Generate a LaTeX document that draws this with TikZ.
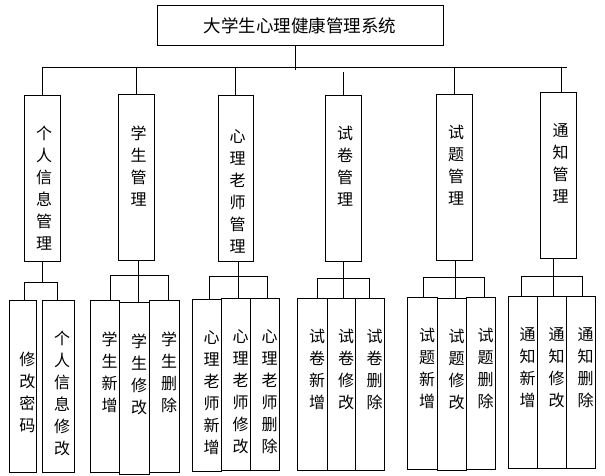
\documentclass[tikz,border=0pt]{standalone}
\usepackage{fontspec}
\setmainfont{Noto Sans CJK SC}
\begin{document}
\begin{tikzpicture}[x=1pt, y=-1pt, line width=1pt, font=\fontsize{16}{22}\selectfont,
          box/.style={draw, anchor=north, inner sep=0pt},
          sys/.style={box, minimum width=286pt, minimum height=40pt, font=\fontsize{17.5}{20}\selectfont},
          mod/.style={box, minimum width=36pt, minimum height=166pt},
          leaf/.style={box, minimum width=29pt, minimum height=172pt},
          vtxt/.style={anchor=north, align=center, inner sep=0pt, yshift=-31pt},
          mtxt/.style={vtxt, xshift=2pt},
          ltxt/.style={vtxt, xshift=5pt}]
        \useasboundingbox (0,0) rectangle (605,476);
        \node[sys] (sys) at (300,5) {大学生心理健康管理系统};
        % second level
        \node[mod, label={[mtxt]north:个\\人\\信\\息\\管\\理}] (m1) at (42,95) {};
        \node[mod, label={[mtxt]north:学\\生\\管\\理}] (m2) at (136.5,94) {};
        \node[mod, minimum width=35pt, label={[mtxt, yshift=-3pt]north:心\\理\\老\\师\\管\\理}] (m3) at (235.5,95) {};
        \node[mod, label={[mtxt]north:试\\卷\\管\\理}] (m4) at (343,95) {};
        \node[mod, label={[mtxt]north:试\\题\\管\\理}] (m5) at (454,94) {};
        \node[mod, label={[mtxt]north:通\\知\\管\\理}] (m6) at (558.5,92) {};
        % leaves
        \node[leaf, minimum width=27pt, label={[ltxt, yshift=-21pt]north:修\\改\\密\\码}] (l11) at (22.5,300) {};
        \node[leaf, minimum width=32pt, label={[ltxt, xshift=-1pt]north:个\\人\\信\\息\\修\\改}] (l12) at (58,300) {};
        \node[leaf, label={[ltxt]north:学\\生\\新\\增}] (l21) at (104.5,300) {};
        \node[leaf, minimum width=30pt, label={[ltxt]north:学\\生\\修\\改}] (l22) at (134,302) {};
        \node[leaf, minimum width=30pt, label={[ltxt]north:学\\生\\删\\除}] (l23) at (164,300) {};
        \node[leaf, label={[ltxt]north:心\\理\\老\\师\\新\\增}] (l31) at (206.5,299) {};
        \node[leaf, label={[ltxt]north:心\\理\\老\\师\\修\\改}] (l32) at (235.5,298) {};
        \node[leaf, label={[ltxt]north:心\\理\\老\\师\\删\\除}] (l33) at (264.5,298) {};
        \node[leaf, minimum width=30pt, label={[ltxt]north:试\\卷\\新\\增}] (l41) at (312,298) {};
        \node[leaf, minimum width=28pt, label={[ltxt]north:试\\卷\\修\\改}] (l42) at (341,298) {};
        \node[leaf, label={[ltxt]north:试\\卷\\删\\除}] (l43) at (369.5,298) {};
        \node[leaf, minimum width=30pt, label={[ltxt]north:试\\题\\新\\增}] (l51) at (422,297) {};
        \node[leaf, label={[ltxt]north:试\\题\\修\\改}] (l52) at (451.5,298) {};
        \node[leaf, label={[ltxt]north:试\\题\\删\\除}] (l53) at (480.5,297) {};
        \node[leaf, label={[ltxt]north:通\\知\\新\\增}] (l61) at (522.5,296) {};
        \node[leaf, label={[ltxt]north:通\\知\\修\\改}] (l62) at (551.5,296) {};
        \node[leaf, label={[ltxt]north:通\\知\\删\\除}] (l63) at (580.5,296) {};
        % top bus
        \coordinate (busL) at (42,68);
        \coordinate (busR) at (567,68);
        \coordinate (d6) at ([xshift=3pt]m6.north);
        \draw ([xshift=-5pt]sys.south) -- ++(0,24);
        \draw (busL) -- (busR);
        \draw (busL) -- (m1.north);
        \draw (m2.north |- busL) -- (m2.north);
        \draw (m3.north |- busL) -- (m3.north);
        \draw (m4.north) -- ++(0,-23);
        \draw (m5.north |- busL) -- (m5.north);
        \draw (d6 |- busL) -- (d6);
        % group buses
        \coordinate (b1L) at (24,282); \coordinate (b1R) at (57,282);
        \draw (m1.south) -- (m1.south |- b1L);
        \draw (b1L) -- (b1R);
        \draw (b1L) -- (b1L |- l11.north);
        \draw (b1R) -- (b1R |- l12.north);
        \coordinate (b2L) at (110,275); \coordinate (b2M) at (138,275); \coordinate (b2R) at (168,275);
        \draw (b2M |- m2.south) -- (b2M |- l22.north);
        \draw (b2L) -- (b2R);
        \draw (b2L) -- (b2L |- l21.north);
        \draw (b2R) -- (b2R |- l23.north);
        \coordinate (b3L) at (209,276); \coordinate (b3M) at (238,276); \coordinate (b3R) at (267,276);
        \draw (b3M |- m3.south) -- (b3M |- l32.north);
        \draw (b3L) -- (b3R);
        \draw (b3L) -- (b3L |- l31.north);
        \draw (b3R) -- (b3R |- l33.north);
        \coordinate (b4L) at (317,278); \coordinate (b4M) at (343,278); \coordinate (b4R) at (369,278);
        \draw (b4M |- m4.south) -- (b4M |- l42.north);
        \draw (b4L) -- (b4R);
        \draw (b4L) -- (b4L |- l41.north);
        \draw (b4R) -- (b4R |- l43.north);
        \coordinate (b5L) at (423,277); \coordinate (b5M) at (455,277); \coordinate (b5R) at (484,277);
        \draw (b5M |- m5.south) -- (b5M |- l52.north);
        \draw (b5L) -- (b5R);
        \draw (b5L) -- (b5L |- l51.north);
        \draw (b5R) -- (b5R |- l53.north);
        \coordinate (b6L) at (521,276); \coordinate (b6M) at (553,276); \coordinate (b6R) at (582,276);
        \draw (b6M |- m6.south) -- (b6M |- l62.north);
        \draw (b6L) -- (b6R);
        \draw (b6L) -- (b6L |- l61.north);
        \draw (b6R) -- (b6R |- l63.north);
      \end{tikzpicture}
\end{document}
